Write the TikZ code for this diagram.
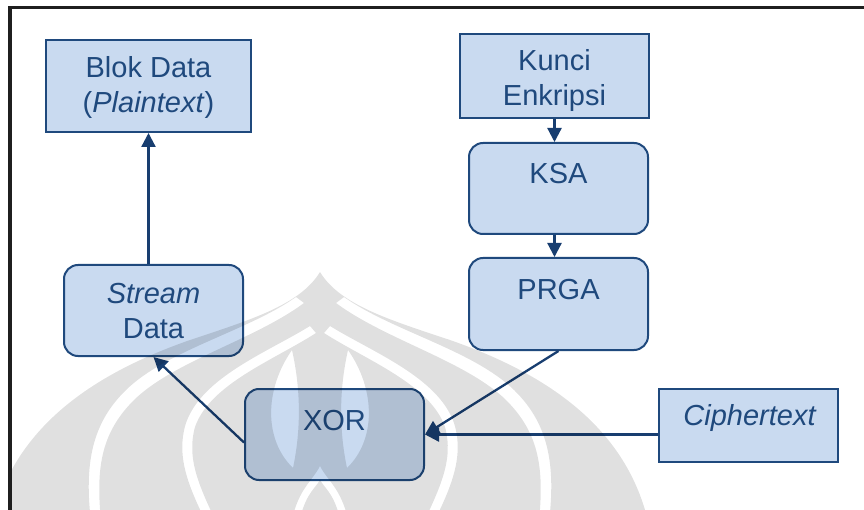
\documentclass[tikz,border=0pt]{standalone}
\usepackage{fontspec}
\setmainfont{Liberation Sans}
\usetikzlibrary{arrows.meta}
\definecolor{boxfill}{RGB}{201,218,240}
\definecolor{boxline}{RGB}{31,73,125}
\definecolor{txtc}{RGB}{31,73,125}
\definecolor{arrowc}{RGB}{24,62,112}
\begin{document}
\begin{tikzpicture}[x=1pt,y=-1pt,
  sqbox/.style={draw=boxline, fill=boxfill, line width=2pt, inner sep=0pt, rectangle},
  rbox/.style={sqbox, rounded corners=14pt},
  lbl/.style={text=txtc, font=\fontsize{29}{35}\selectfont, align=center, inner sep=0pt},
  arr/.style={draw=arrowc, line width=2.3pt, -{Triangle[length=14pt,width=14pt]}},
  wmark/.style={fill=black, fill opacity=0.12, even odd rule},
]
\useasboundingbox (0,0) rectangle (864,510);
\fill[white] (0,0) rectangle (864,510);

% frame
\draw[line width=3.3pt, black!88] (10,512) -- (10,7.3) -- (866,7.3);

% boxes
\node[sqbox, minimum width=205pt, minimum height=92pt] (blok) at (148.5,86) {};
\node[lbl] (blokT) at (148.5,87.6) {Blok Data\\(\textit{Plaintext})};

\node[sqbox, minimum width=189pt, minimum height=84pt] (kunci) at (554.5,76) {};
\node[lbl] (kunciT) at (554.5,80.6) {Kunci\\Enkripsi};

\node[rbox, minimum width=179pt, minimum height=91pt] (ksa) at (558.5,188.5) {};
\node[lbl, anchor=base] (ksaT) at (558.5,184) {KSA};

\node[rbox, minimum width=179pt, minimum height=92pt] (prga) at (558.5,304) {};
\node[lbl, anchor=base] (prgaT) at (558.5,300) {PRGA};

\node[rbox, minimum width=179pt, minimum height=91pt] (stream) at (153.5,310.5) {};
\node[lbl] (streamT) at (153.5,311) {\textit{Stream}\\Data};

\node[rbox, minimum width=179pt, minimum height=91pt] (xor) at (334.5,434.5) {};
\node[lbl, anchor=base] (xorT) at (334.5,430.7) {XOR};

\node[sqbox, minimum width=179pt, minimum height=73pt] (cipher) at (748.5,425.5) {};
\node[lbl, anchor=base] (cipherT) at (750,425) {\textit{Ciphertext}};

% connectors
\draw[arr] (blok.south |- stream.north) -- (blok.south);
\draw[arr] (kunci.south) -- (kunci.south |- ksa.north);
\draw[arr] (kunci.south |- ksa.south) -- (kunci.south |- prga.north);
\draw[arr] (prga.south) -- (xor.east);
\draw[arr] (xor.east -| cipher.west) -- (xor.east);
\draw[arr] ([yshift=-8pt]xor.west) -- (stream.south);

% watermark (faint logo)
\begin{scope}
  \clip (11.8,9) rectangle (864,510);
  \fill[wmark]
    % outer dome
    (320,272) .. controls (300,305) and (250,320) .. (190,340)
      .. controls (90,375) and (10,430) .. (-10,530) -- (650,530)
      .. controls (630,430) and (550,375) .. (450,340)
      .. controls (390,320) and (340,305) .. (320,272) -- cycle
    % outer white bands
    (296,297) .. controls (248,331) and (167,350) .. (126,390)
      .. controls (89,426) and (84,470) .. (92,530) -- (102,530)
      .. controls (95,470) and (100,434) .. (134,400)
      .. controls (174,361) and (254,340) .. (304,303) -- cycle
    (344,297) .. controls (392,331) and (473,350) .. (514,390)
      .. controls (551,426) and (556,470) .. (548,530) -- (538,530)
      .. controls (545,470) and (540,434) .. (506,400)
      .. controls (466,361) and (386,340) .. (336,303) -- cycle
    % inner white bands
    (310,326) .. controls (268,352) and (202,377) .. (186,423)
      .. controls (175,458) and (190,490) .. (210,530) -- (220,530)
      .. controls (200,488) and (186,460) .. (195,427)
      .. controls (210,384) and (274,360) .. (316,333) -- cycle
    (330,326) .. controls (372,352) and (438,377) .. (454,423)
      .. controls (465,458) and (450,490) .. (430,530) -- (420,530)
      .. controls (440,488) and (454,460) .. (445,427)
      .. controls (430,384) and (366,360) .. (324,333) -- cycle
    % petals
    (292,350) .. controls (264,390) and (264,440) .. (293,468)
      .. controls (301,430) and (301,390) .. (292,350) -- cycle
    (348,350) .. controls (376,390) and (376,440) .. (347,468)
      .. controls (339,430) and (339,390) .. (348,350) -- cycle
    % flame outline
    (290,530) .. controls (296,490) and (312,482) .. (320,466)
      .. controls (328,482) and (344,490) .. (350,530) -- (342,530)
      .. controls (337,496) and (326,490) .. (320,480)
      .. controls (314,490) and (303,496) .. (298,530) -- cycle;
\end{scope}
\end{tikzpicture}
\end{document}
